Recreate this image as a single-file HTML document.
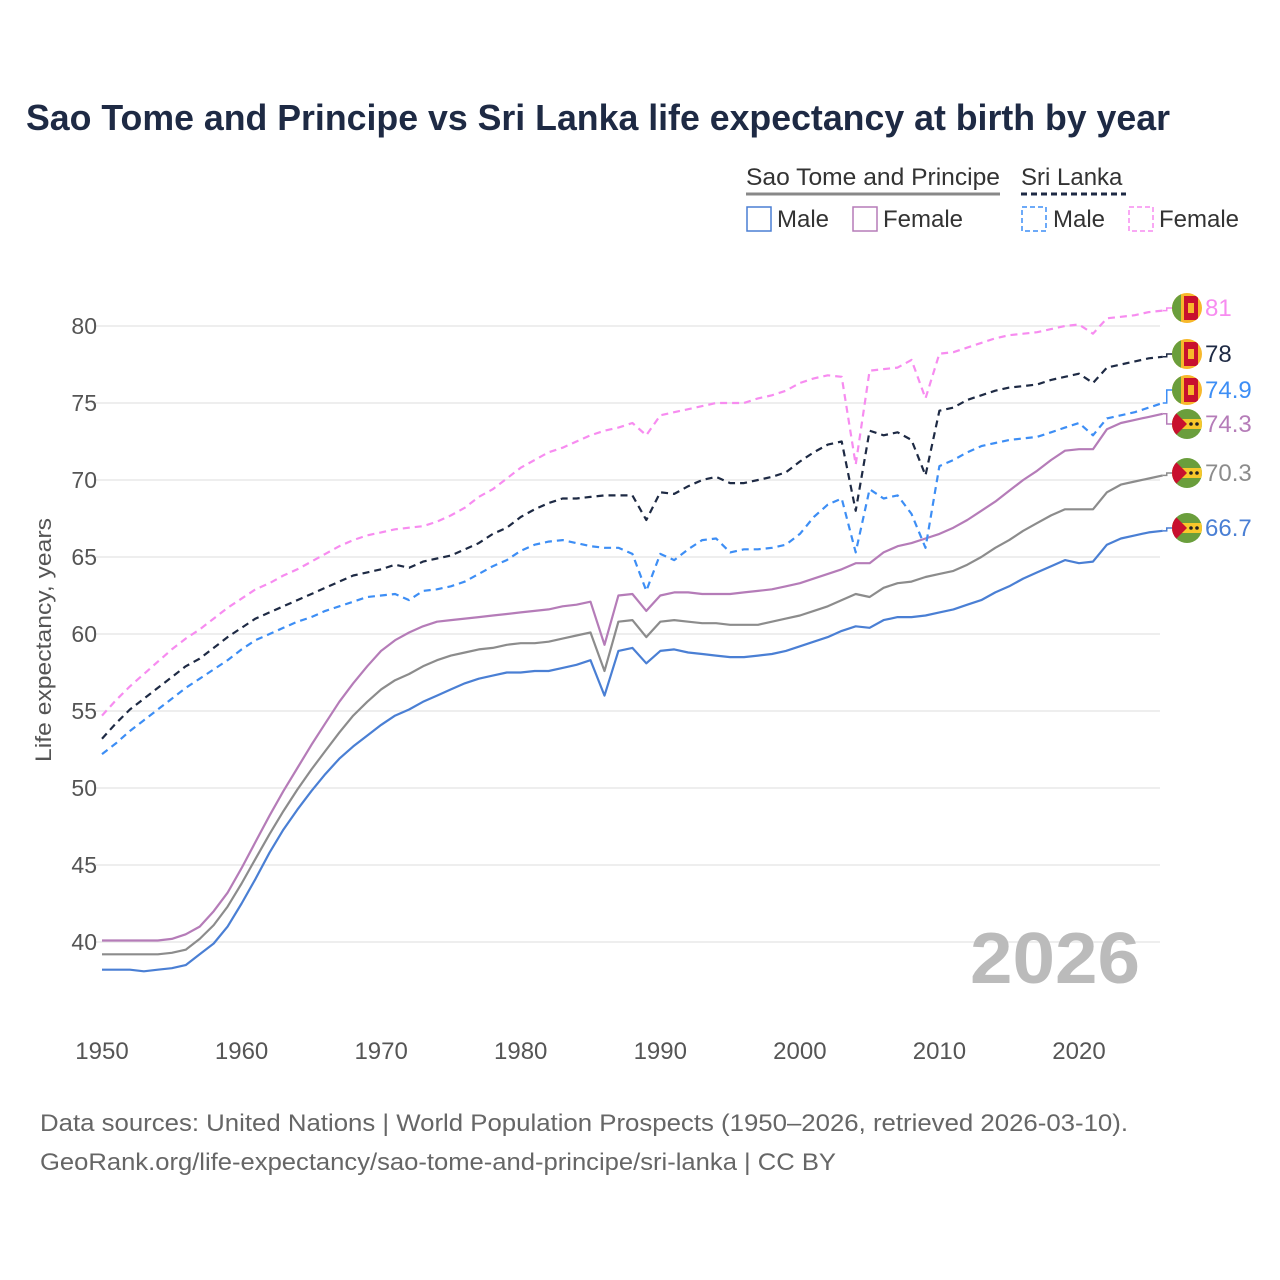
<!DOCTYPE html>
<html><head><meta charset="utf-8">
<style>
body{margin:0;background:#fff;}
#wrap{position:relative;width:1280px;height:1280px;font-family:"Liberation Sans",sans-serif;}
</style></head>
<body>
<div id="wrap">
<svg id="chart" width="1280" height="1280" style="position:absolute;left:0;top:0;font-family:'Liberation Sans',sans-serif;">
<text x="26" y="130" font-size="36" font-weight="bold" fill="#1e2a44" textLength="1144" lengthAdjust="spacingAndGlyphs">Sao Tome and Principe vs Sri Lanka life expectancy at birth by year</text>
<g>
 <text x="746" y="185" font-size="24" fill="#333" textLength="254" lengthAdjust="spacingAndGlyphs">Sao Tome and Principe</text>
 <line x1="746" y1="194" x2="1000" y2="194" stroke="#888" stroke-width="3"/>
 <text x="1021" y="185" font-size="24" fill="#333">Sri Lanka</text>
 <line x1="1021" y1="194" x2="1126" y2="194" stroke="#1e2a44" stroke-width="3" stroke-dasharray="6,4"/>
 <g><rect x="747" y="207" width="24" height="24" fill="none" stroke="#4a7fd4" stroke-width="1.5"/><text x="777" y="227" font-size="24" fill="#333">Male</text></g>
 <g><rect x="853" y="207" width="24" height="24" fill="none" stroke="#b57cb8" stroke-width="1.5"/><text x="883" y="227" font-size="24" fill="#333">Female</text></g>
 <g><rect x="1022" y="207" width="24" height="24" fill="none" stroke="#3d8ef5" stroke-width="1.5" stroke-dasharray="5,3"/><text x="1053" y="227" font-size="24" fill="#333">Male</text></g>
 <g><rect x="1129" y="207" width="24" height="24" fill="none" stroke="#f78cf0" stroke-width="1.5" stroke-dasharray="5,3"/><text x="1159" y="227" font-size="24" fill="#333">Female</text></g>
</g>
<g id="grid"></g>
<g id="yticks"></g>
<g id="xticks"></g>
<text transform="translate(51,640) rotate(-90)" text-anchor="middle" font-size="22" fill="#555" textLength="244" lengthAdjust="spacingAndGlyphs">Life expectancy, years</text>
<text x="1140" y="983" text-anchor="end" font-size="72" font-weight="bold" fill="#bbb" textLength="170" lengthAdjust="spacingAndGlyphs">2026</text>
<g id="series"></g>
<g id="labels"></g>
<text x="40" y="1131" font-size="24" fill="#666" textLength="1088" lengthAdjust="spacingAndGlyphs">Data sources: United Nations | World Population Prospects (1950–2026, retrieved 2026-03-10).</text>
<text x="40" y="1170" font-size="24" fill="#666" textLength="796" lengthAdjust="spacingAndGlyphs">GeoRank.org/life-expectancy/sao-tome-and-principe/sri-lanka | CC BY</text>
</svg>
</div>
<script>
const startYear = 1950;
const xTicks = [1950,1960,1970,1980,1990,2000,2010,2020];
const yTicks = [40,45,50,55,60,65,70,75,80];
const lkFemale = [54.7,55.7,56.6,57.4,58.2,59.0,59.7,60.3,61.0,61.7,62.3,62.9,63.3,63.8,64.2,64.7,65.2,65.7,66.1,66.4,66.6,66.8,66.9,67.0,67.3,67.7,68.2,68.9,69.4,70.1,70.8,71.3,71.8,72.1,72.5,72.9,73.2,73.4,73.7,72.9,74.2,74.4,74.6,74.8,75.0,75.0,75.0,75.3,75.5,75.8,76.3,76.6,76.8,76.7,71.0,77.1,77.2,77.3,77.8,75.3,78.2,78.3,78.6,78.9,79.2,79.4,79.5,79.6,79.8,80.0,80.1,79.5,80.5,80.6,80.7,80.9,81.0];
const lkTotal = [53.2,54.2,55.1,55.8,56.5,57.2,57.9,58.4,59.1,59.8,60.4,61.0,61.4,61.8,62.2,62.6,63.0,63.4,63.8,64.0,64.2,64.5,64.3,64.7,64.9,65.1,65.5,65.9,66.5,66.9,67.6,68.1,68.5,68.8,68.8,68.9,69.0,69.0,69.0,67.4,69.2,69.1,69.6,70.0,70.2,69.8,69.8,70.0,70.2,70.5,71.2,71.8,72.3,72.5,68.0,73.2,72.9,73.1,72.6,70.3,74.5,74.7,75.2,75.5,75.8,76.0,76.1,76.2,76.5,76.7,76.9,76.3,77.3,77.5,77.7,77.9,78.0];
const lkMale = [52.2,52.9,53.7,54.4,55.1,55.8,56.5,57.1,57.7,58.3,59.0,59.6,60.0,60.4,60.8,61.1,61.5,61.8,62.1,62.4,62.5,62.6,62.2,62.8,62.9,63.1,63.4,63.9,64.4,64.8,65.4,65.8,66.0,66.1,65.9,65.7,65.6,65.6,65.2,62.8,65.2,64.8,65.5,66.1,66.2,65.3,65.5,65.5,65.6,65.8,66.5,67.6,68.4,68.8,65.3,69.4,68.8,69.0,67.8,65.6,70.9,71.3,71.8,72.2,72.4,72.6,72.7,72.8,73.1,73.4,73.7,72.9,74.0,74.2,74.4,74.7,75.0];
const stpFemale = [40.1,40.1,40.1,40.1,40.1,40.2,40.5,41.0,42.0,43.2,44.8,46.5,48.2,49.8,51.3,52.8,54.2,55.6,56.8,57.9,58.9,59.6,60.1,60.5,60.8,60.9,61.0,61.1,61.2,61.3,61.4,61.5,61.6,61.8,61.9,62.1,59.3,62.5,62.6,61.5,62.5,62.7,62.7,62.6,62.6,62.6,62.7,62.8,62.9,63.1,63.3,63.6,63.9,64.2,64.6,64.6,65.3,65.7,65.9,66.2,66.5,66.9,67.4,68.0,68.6,69.3,70.0,70.6,71.3,71.9,72.0,72.0,73.3,73.7,73.9,74.1,74.3];
const stpTotal = [39.2,39.2,39.2,39.2,39.2,39.3,39.5,40.2,41.1,42.3,43.8,45.4,47.0,48.5,49.9,51.2,52.4,53.6,54.7,55.6,56.4,57.0,57.4,57.9,58.3,58.6,58.8,59.0,59.1,59.3,59.4,59.4,59.5,59.7,59.9,60.1,57.6,60.8,60.9,59.8,60.8,60.9,60.8,60.7,60.7,60.6,60.6,60.6,60.8,61.0,61.2,61.5,61.8,62.2,62.6,62.4,63.0,63.3,63.4,63.7,63.9,64.1,64.5,65.0,65.6,66.1,66.7,67.2,67.7,68.1,68.1,68.1,69.2,69.7,69.9,70.1,70.3];
const stpMale = [38.2,38.2,38.2,38.1,38.2,38.3,38.5,39.2,39.9,41.0,42.5,44.1,45.8,47.3,48.6,49.8,50.9,51.9,52.7,53.4,54.1,54.7,55.1,55.6,56.0,56.4,56.8,57.1,57.3,57.5,57.5,57.6,57.6,57.8,58.0,58.3,56.0,58.9,59.1,58.1,58.9,59.0,58.8,58.7,58.6,58.5,58.5,58.6,58.7,58.9,59.2,59.5,59.8,60.2,60.5,60.4,60.9,61.1,61.1,61.2,61.4,61.6,61.9,62.2,62.7,63.1,63.6,64.0,64.4,64.8,64.6,64.7,65.8,66.2,66.4,66.6,66.7];
const endLabels = ["81","78","74.9","74.3","70.3","66.7"];

const NS="http://www.w3.org/2000/svg";
function X(year){return 102+(year-1950)*(1079-102)/70;}
function Y(v){return 942-(v-40)*(942-326)/40;}
function mk(tag,attrs,parent){const e=document.createElementNS(NS,tag);for(const k in attrs)e.setAttribute(k,attrs[k]);parent.appendChild(e);return e;}

const grid=document.getElementById('grid'),yt=document.getElementById('yticks'),xt=document.getElementById('xticks');
yTicks.forEach(v=>{
  const l=mk('line',{x1:96,x2:1160,y1:Y(v),y2:Y(v),stroke:'#e8e8e8','stroke-width':1.5},grid);
  
  
  const t=mk('text',{x:97,y:Y(v)+8,'text-anchor':'end','font-size':23,fill:'#555'},yt);
  t.textContent=v;
  
  
});
xTicks.forEach(v=>{
  const t=mk('text',{x:X(v),y:1059,'text-anchor':'middle','font-size':24,fill:'#555'},xt);
  t.textContent=v;
  
  
});

const series=[
 {d:stpMale,c:'#4a7fd4',dash:null,name:'line-stp-male'},
 {d:stpTotal,c:'#8c8c8c',dash:null,name:'line-stp-total'},
 {d:stpFemale,c:'#b57cb8',dash:null,name:'line-stp-female'},
 {d:lkMale,c:'#3d8ef5',dash:'7,5',name:'line-lk-male'},
 {d:lkTotal,c:'#1e2a44',dash:'7,5',name:'line-lk-total'},
 {d:lkFemale,c:'#f78cf0',dash:'7,5',name:'line-lk-female'}
];
const sg=document.getElementById('series');
series.forEach(s=>{
  const pts=s.d.map((v,i)=>X(startYear+i).toFixed(1)+','+Y(v).toFixed(1)).join(' ');
  const a={points:pts,fill:'none',stroke:s.c,'stroke-width':2.2,'stroke-linejoin':'round'};
  if(s.dash)a['stroke-dasharray']=s.dash;
  const p=mk('polyline',a,sg);
  
  
});

const lab=document.getElementById('labels');
const labelY=[308,354,390,424,473,528];
const labelDefs=[
 {s:lkFemale,c:'#f78cf0',flag:'lk'},
 {s:lkTotal,c:'#1e2a44',flag:'lk'},
 {s:lkMale,c:'#3d8ef5',flag:'lk'},
 {s:stpFemale,c:'#b57cb8',flag:'st'},
 {s:stpTotal,c:'#8c8c8c',flag:'st'},
 {s:stpMale,c:'#4a7fd4',flag:'st'}
];
labelDefs.forEach((d,i)=>{
  const ly=labelY[i], lastY=Y(d.s[d.s.length-1]), x0=X(2026);
  mk('polyline',{points:`${x0},${lastY} ${x0+4},${lastY} ${x0+4},${ly} ${x0+10},${ly}`,fill:'none',stroke:d.c,'stroke-width':1.5},lab);
  const g=mk('g',{},lab);
  
  
  const cx=1187,cy=ly,r=15;
  const cid='clip'+i;
  const cp=mk('clipPath',{id:cid},g);mk('circle',{cx:cx,cy:cy,r:r},cp);
  const f=mk('g',{'clip-path':`url(#${cid})`},g);
  if(d.flag==='lk'){
    mk('rect',{x:cx-r,y:cy-r,width:2*r,height:2*r,fill:'#f7b82b'},f);
    mk('rect',{x:cx-r,y:cy-r,width:9,height:2*r,fill:'#6a9e3c'},f);
    mk('rect',{x:cx-3,y:cy-r+3,width:14,height:2*r-6,fill:'#c8102e'},f);
    mk('rect',{x:cx+1,y:cy-5,width:6,height:10,fill:'#f7b82b'},f);
  } else {
    mk('rect',{x:cx-r,y:cy-r,width:2*r,height:2*r,fill:'#6a9e3c'},f);
    mk('rect',{x:cx-r,y:cy-5,width:2*r,height:10,fill:'#f7c82b'},f);
    mk('polygon',{points:`${cx-r},${cy-r} ${cx},${cy} ${cx-r},${cy+r}`,fill:'#c8102e'},f);
    mk('circle',{cx:cx+4,cy:cy,r:1.8,fill:'#222'},f);
    mk('circle',{cx:cx+10,cy:cy,r:1.8,fill:'#222'},f);
  }
  const t=mk('text',{x:1205,y:ly+8,'font-size':24,fill:d.c},lab);
  t.textContent=endLabels[i];
  
  
});
</script>
</body></html>
